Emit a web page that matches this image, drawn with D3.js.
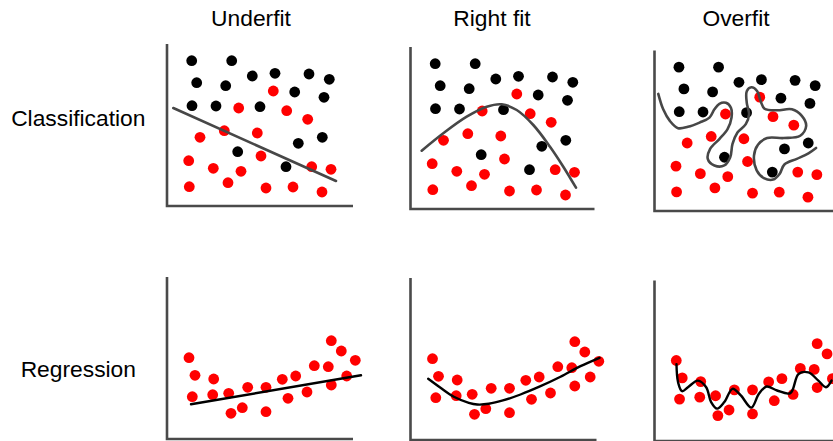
<!DOCTYPE html>
<html>
<head>
<meta charset="utf-8">
<script src="https://cdn.jsdelivr.net/npm/d3@7"></script>
<style>
  html, body { margin: 0; padding: 0; background: #fff; }
  svg { display: block; }
</style>
</head>
<body>
<svg id="chart" width="833" height="441"></svg>
<script>
// ---------- data ----------
const columnTitles = ["Underfit", "Right fit", "Overfit"];
const rowLabels = ["Classification", "Regression"];

// classification points (same for all three panels)
const blackX = [24.7, 64.7, 85.3, 108, 142, 162.3, 29.7, 58.7, 127.7, 157, 25, 49, 93, 155.3, 131.3, 70.7, 119];
const blackY = [145.3, 145.3, 130, 132.7, 132, 126.7, 123.3, 120.3, 114, 108.7, 100.3, 100, 99.3, 68.7, 62.7, 54.3, 39.3];
const redX = [106.3, 71.7, 119.7, 140.7, 33, 57.3, 90.3, 94, 21.7, 46.3, 74, 144.7, 164, 22.3, 61, 99, 126, 155];
const redY = [115, 98, 95.3, 86.7, 68.7, 75.3, 73, 50, 45.3, 37.7, 34.7, 39.3, 36.7, 19.3, 23.3, 18, 19, 14];

// classification boundaries
const underfitBoundaryX = [6.3, 169];
const underfitBoundaryY = [98, 25];
const rightBoundaryX = [11.2, 32.8, 56.2, 76.2, 91.2, 106.2, 122.8, 139.5, 152.8, 165.5];
const rightBoundaryY = [58.3, 75.7, 92.3, 102.3, 104.7, 99, 84, 62.3, 42.3, 21.3];
const overBoundaryX = [3.8, 8.8, 15.5, 23.8, 33.8, 45.5, 55.5, 60.5, 65.5, 72.2, 77.2, 77.8, 73.8, 65.5, 56.2, 53.8, 60.5, 70.5, 76.5, 78.8, 83.8, 92.2, 95.5, 93.2, 93.2, 97.8, 103.8, 107.2, 111.2, 123.8, 138.8, 148.8, 153.2, 147.2, 130.5, 113.8, 104.5, 100.5, 103.2, 110.5, 119.8, 126.5, 131.2, 143.8, 155.5, 163.2];
const overBoundaryY = [118.3, 102.7, 91, 83.7, 85, 89.3, 94.3, 102.7, 108.3, 109.3, 104.3, 94.3, 82.7, 72.7, 62.7, 52.7, 46, 46, 54.3, 67.7, 79.3, 87.7, 97.7, 109.3, 121, 125, 121, 111, 103.3, 101.7, 102.7, 96, 86, 76, 73.7, 73.7, 67, 56, 41, 33.3, 31.7, 37.7, 47, 52.7, 58.3, 63.7];

// regression points (same for all three panels)
const regX = [22, 28, 25.3, 46.7, 45.7, 61.7, 64, 75.3, 80.7, 99, 99, 115.3, 121, 128.7, 140, 147.3, 161.3, 164.3, 164.3, 174.3, 179.7, 188.3];
const regY = [81.3, 63.7, 42.3, 60, 44.3, 45.7, 25.7, 31.3, 51.7, 51.7, 27.3, 59.7, 40.7, 63, 47, 73.3, 72.3, 54, 98.3, 88, 63, 78.7];

// regression fits
const underfitFitX = [24, 194];
const underfitFitY = [34.7, 63.7];
const rightFitX = [17.7, 30, 43.3, 58.3, 66.7, 78.3, 93.3, 110, 130, 150, 170, 189];
const rightFitY = [61.2, 52.2, 43.2, 37.2, 35.5, 36.2, 39.8, 45.5, 53.8, 63.2, 73.8, 82.2];
const overFitX = [22.2, 23.8, 27.8, 33.8, 43.8, 52.2, 57.2, 63.2, 70.5, 78.8, 87.2, 97.8, 105.5, 113.2, 123.8, 137.2, 145.5, 155.5, 165.5, 173.2, 178.8];
const overFitY = [77.7, 59.3, 50.3, 54.3, 61, 54.3, 39.3, 32.7, 39.3, 52.7, 46, 33.7, 47.7, 55, 51, 48.3, 67.7, 69.3, 61, 54.3, 61];

// ---------- layout ----------
const svg = d3.select("#chart");
const xMax = 186, yMax = 162;
const panels = [
  // classification row
  { row: 0, col: 0, ox: 167,   oy: 206,   s: 1,    xEnd: 186 },
  { row: 0, col: 1, ox: 410.5, oy: 209,   s: 1,    xEnd: 184 },
  { row: 0, col: 2, ox: 654.5, oy: 211,   s: 0.99, xEnd: 200 },
  // regression row
  { row: 1, col: 0, ox: 167,   oy: 439,   s: 1,    xEnd: 186 },
  { row: 1, col: 1, ox: 410.5, oy: 440,   s: 1,    xEnd: 186 },
  { row: 1, col: 2, ox: 654.5, oy: 441,   s: 0.99, xEnd: 200 }
];

const zip = (xs, ys) => xs.map((x, i) => [x, ys[i]]);
const classBoundaries = [
  { pts: zip(underfitBoundaryX, underfitBoundaryY), curve: d3.curveLinear },
  { pts: zip(rightBoundaryX, rightBoundaryY), curve: d3.curveCatmullRom },
  { pts: zip(overBoundaryX, overBoundaryY), curve: d3.curveCatmullRom }
];
const regFits = [
  { pts: zip(underfitFitX, underfitFitY), curve: d3.curveLinear },
  { pts: zip(rightFitX, rightFitY), curve: d3.curveCatmullRom },
  { pts: zip(overFitX, overFitY), curve: d3.curveCatmullRom }
];
const blackPts = zip(blackX, blackY);
const redPts = zip(redX, redY);
const regPts = zip(regX, regY);

panels.forEach(p => {
  const x = d3.scaleLinear().domain([0, xMax]).range([p.ox, p.ox + xMax * p.s]);
  const y = d3.scaleLinear().domain([0, yMax]).range([p.oy, p.oy - yMax * p.s]);
  const g = svg.append("g");

  // axes
  g.append("path")
    .attr("d", d3.line()([[x(0), y(yMax)], [x(0), y(0)], [x(p.xEnd), y(0)]]))
    .attr("fill", "none")
    .attr("stroke", "#4a4a4a")
    .attr("stroke-width", 2.6);

  const line = d3.line().x(d => x(d[0])).y(d => y(d[1]));

  if (p.row === 0) {
    g.selectAll("circle.b").data(blackPts).join("circle")
      .attr("cx", d => x(d[0])).attr("cy", d => y(d[1])).attr("r", 5.4).attr("fill", "#000");
    g.selectAll("circle.r").data(redPts).join("circle")
      .attr("cx", d => x(d[0])).attr("cy", d => y(d[1])).attr("r", 5.4).attr("fill", "#f00");
    const b = classBoundaries[p.col];
    g.append("path")
      .attr("d", line.curve(b.curve)(b.pts))
      .attr("fill", "none").attr("stroke", "#474747").attr("stroke-width", 2.6)
      .attr("stroke-linecap", "round").attr("stroke-linejoin", "round");
  } else {
    g.selectAll("circle").data(regPts).join("circle")
      .attr("cx", d => x(d[0])).attr("cy", d => y(d[1])).attr("r", 5.4).attr("fill", "#f00");
    const f = regFits[p.col];
    g.append("path")
      .attr("d", line.curve(f.curve)(f.pts))
      .attr("fill", "none").attr("stroke", "#000").attr("stroke-width", 2.4)
      .attr("stroke-linecap", "round").attr("stroke-linejoin", "round");
  }
});

// titles
const titleX = [251, 492, 736];
svg.selectAll("text.title").data(columnTitles).join("text")
  .attr("class", "title")
  .attr("x", (d, i) => titleX[i]).attr("y", 26)
  .attr("text-anchor", "middle")
  .attr("font-family", "Liberation Sans, Arial, sans-serif")
  .attr("font-size", 22.8)
  .attr("fill", "#000")
  .text(d => d);

const rowLabelX = [78.3, 78.3];
const rowLabelY = [126, 377];
svg.selectAll("text.row").data(rowLabels).join("text")
  .attr("class", "row")
  .attr("x", (d, i) => rowLabelX[i]).attr("y", (d, i) => rowLabelY[i])
  .attr("text-anchor", "middle")
  .attr("font-family", "Liberation Sans, Arial, sans-serif")
  .attr("font-size", 22.8)
  .attr("fill", "#000")
  .text(d => d);
</script>
</body>
</html>
